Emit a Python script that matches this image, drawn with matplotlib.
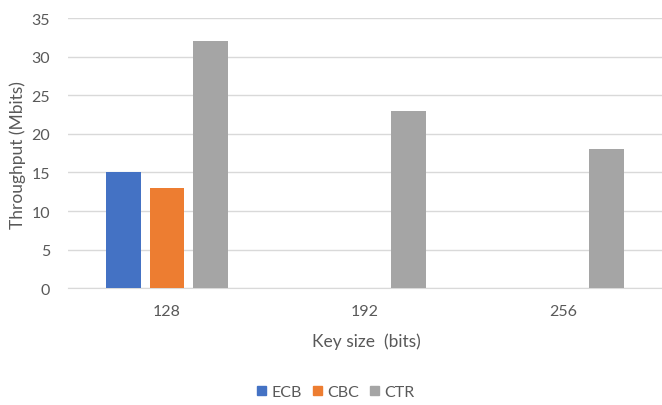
import numpy as np
import matplotlib.pyplot as plt
from matplotlib.patches import Patch

key_sizes = ['128', '192', '256']
ecb = [15, np.nan, np.nan]
cbc = [13, np.nan, np.nan]
ctr = [32, 23, 18]

colors = {'ECB': '#4472C4', 'CBC': '#ED7D31', 'CTR': '#A5A5A5'}
text_col = '#595959'

plt.rcParams['font.family'] = ['Lato', 'DejaVu Sans']

fig = plt.figure(figsize=(6.62, 4.06), dpi=100)
ax = fig.add_axes([68 / 662, 1 - 289.3 / 406, 1 - 68 / 662, (289.3 - 19) / 406])

x = np.arange(len(key_sizes))
w = 0.176
step = 0.221
for i, (name, vals) in enumerate([('ECB', ecb), ('CBC', cbc), ('CTR', ctr)]):
    ax.bar(x + (i - 1) * step, vals, width=w, color=colors[name], zorder=3)

ax.set_xlim(-0.5, 2.5)
ax.set_ylim(0, 35)
ax.set_yticks(range(0, 36, 5))
ax.set_xticks(x)
ax.set_xticklabels(key_sizes)
ax.grid(axis='y', color='#D9D9D9', linewidth=1, zorder=0)
for s in ['top', 'right', 'left']:
    ax.spines[s].set_visible(False)
ax.spines['bottom'].set_color('#D9D9D9')
ax.tick_params(axis='both', length=0, labelsize=11.5, labelcolor=text_col)
ax.tick_params(axis='y', pad=13)
ax.tick_params(axis='x', pad=11)

fig.text(18 / 662, 1 - 155 / 406, 'Throughput (Mbits)', rotation=90, ha='center', va='center',
         fontsize=12.5, color=text_col)
fig.text(366 / 662, 1 - 342 / 406, 'Key size  (bits)', ha='center', va='center',
         fontsize=12.5, color=text_col)

handles = [Patch(color=colors[n], label=n) for n in ['ECB', 'CBC', 'CTR']]
leg = fig.legend(handles=handles, loc='center', bbox_to_anchor=(336 / 662, 1 - 393 / 406), ncol=3,
                 frameon=False, fontsize=11.5, handlelength=0.55, handleheight=0.55,
                 handletextpad=0.35, columnspacing=0.7)
for t in leg.get_texts():
    t.set_color(text_col)

fig.savefig('out.png', dpi=100)
